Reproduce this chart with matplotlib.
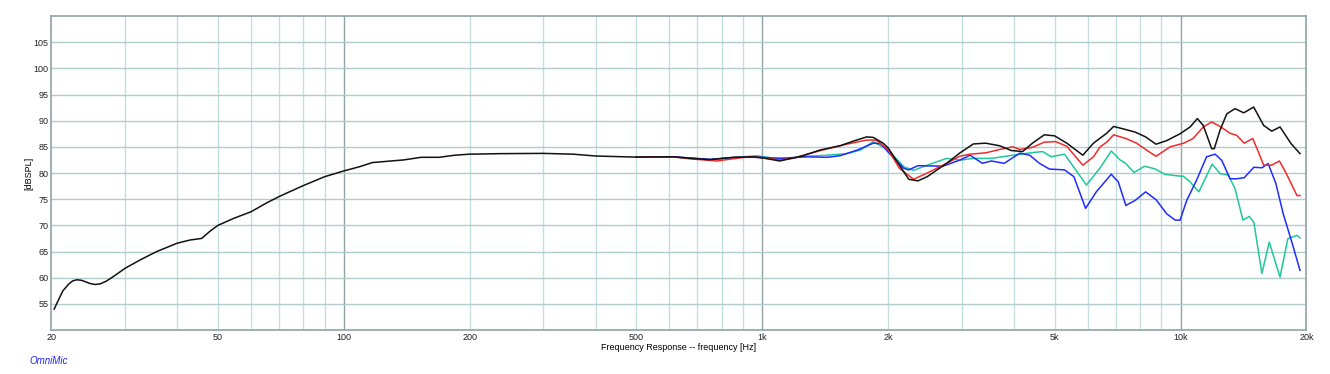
import numpy as np
import matplotlib
matplotlib.use("Agg")
import matplotlib.pyplot as plt

plt.rcParams['font.family'] = ['Liberation Sans', 'DejaVu Sans']

# ---- data (Hz, dBSPL) ----
black_f = [20.3, 20.8, 21.3, 22.0, 22.5, 23.0, 23.6, 24.7, 25.4, 26.1, 27.0, 28.1, 30, 32.6,
           35.7, 40, 42.9, 45.7, 47.9, 50, 54.4, 60, 65.4, 70, 80, 90, 100, 109, 117, 139,
           153, 169, 184, 200, 236, 300, 353, 400, 492, 612, 674, 750, 852, 953, 1000, 1102,
           1252, 1376, 1534, 1652, 1777, 1843, 1946, 2000, 2128, 2240, 2357, 2480, 2760,
           2965, 3196, 3420, 3698, 3940, 4193, 4426, 4724, 5000, 5348, 5840, 6192, 6660,
           6920, 7400, 7800, 8250, 8740, 9270, 9975, 10540, 10970, 11330, 11870, 12040,
           12430, 12900, 13500, 14160, 14960, 15800, 16520, 17290, 18380, 19305]
black_db = [54.0, 55.8, 57.5, 58.8, 59.4, 59.6, 59.5, 58.9, 58.7, 58.8, 59.3, 60.2, 61.8, 63.4,
            65.0, 66.6, 67.2, 67.5, 68.9, 70.0, 71.3, 72.6, 74.3, 75.5, 77.6, 79.3, 80.4, 81.2,
            82.0, 82.5, 83.0, 83.0, 83.4, 83.6, 83.7, 83.75, 83.6, 83.25, 83.05, 83.1, 82.8,
            82.55, 83.0, 83.1, 82.9, 82.3, 83.3, 84.4, 85.2, 86.1, 86.9, 86.8, 85.7, 84.8,
            81.5, 78.8, 78.5, 79.3, 81.85, 83.8, 85.55, 85.7, 85.2, 84.3, 84.1, 85.7, 87.3,
            87.1, 85.7, 83.4, 85.7, 87.6, 88.9, 88.3, 87.8, 86.9, 85.5, 86.2, 87.5, 88.8,
            90.4, 89.1, 84.65, 84.65, 88.2, 91.3, 92.3, 91.5, 92.6, 89.1, 88.0, 88.8, 85.6,
            83.7]

red_f = [500, 612, 674, 780, 866, 930, 1000, 1102, 1184, 1280, 1426, 1590, 1777, 1870, 2000,
         2128, 2300, 2480, 2760, 2965, 3140, 3420, 3698, 3973, 4130, 4426, 4724, 5030, 5348,
         5840, 6192, 6424, 6660, 6920, 7400, 7850, 8250, 8740, 9440, 10180, 10720, 11330,
         11870, 12430, 13134, 13620, 14200, 14880, 15300, 15800, 16520, 17230, 17900, 18980,
         19305]
red_db = [83.05, 83.1, 82.7, 82.3, 82.8, 83.1, 82.9, 82.5, 82.8, 83.6, 84.6, 85.5, 86.3, 86.3,
          84.5, 80.9, 78.8, 80.0, 81.85, 83.2, 83.6, 83.85, 84.5, 85.0, 84.5, 84.9, 85.9, 86.0,
          85.1, 81.5, 83.1, 85.0, 85.9, 87.3, 86.6, 85.7, 84.5, 83.2, 85.0, 85.7, 86.6, 88.8,
          89.75, 88.9, 87.6, 87.2, 85.7, 86.6, 84.3, 81.5, 81.5, 82.3, 79.9, 75.7, 75.7]

teal_f = [500, 612, 750, 870, 970, 1070, 1160, 1280, 1426, 1590, 1720, 1843, 2000, 2180, 2300,
          2480, 2760, 2965, 3196, 3530, 3973, 4426, 4680, 4910, 5280, 5960, 6424, 6830, 7170,
          7400, 7740, 8200, 8680, 9170, 9975, 10150, 10540, 11060, 11900, 12430, 13010, 13500,
          14100, 14600, 14970, 15650, 16300, 17290, 18050, 18980, 19305]
teal_db = [83.05, 83.1, 82.6, 83.0, 83.3, 82.8, 82.8, 83.2, 83.4, 83.7, 84.4, 86.0, 84.4, 81.2,
           80.5, 81.5, 82.8, 82.45, 82.8, 82.8, 83.4, 83.9, 84.1, 83.1, 83.6, 77.7, 81.0, 84.2,
           82.5, 81.8, 80.1, 81.3, 80.8, 79.75, 79.4, 79.4, 78.3, 76.4, 81.7, 79.9, 79.6, 77.0,
           71.0, 71.7, 70.6, 60.8, 66.8, 60.1, 67.45, 68.1, 67.6]

blue_f = [500, 612, 750, 870, 1000, 1102, 1280, 1426, 1534, 1690, 1843, 1920, 2000, 2180, 2240,
          2357, 2700, 2965, 3140, 3360, 3530, 3790, 4130, 4360, 4600, 4860, 5280, 5560, 5930,
          6290, 6830, 7100, 7400, 7800, 8250, 8740, 9270, 9710, 9975, 10350, 10920, 11540,
          12100, 12550, 13134, 13620, 14200, 14970, 15650, 16200, 16900, 17600, 18500, 19305]
blue_db = [83.05, 83.1, 82.6, 83.0, 83.0, 82.8, 83.1, 83.0, 83.3, 84.4, 85.7, 85.6, 84.0, 80.9,
           80.6, 81.4, 81.3, 82.45, 83.4, 81.85, 82.3, 81.85, 83.8, 83.4, 81.85, 80.75, 80.6,
           79.3, 73.25, 76.4, 79.75, 78.3, 73.8, 74.8, 76.4, 74.9, 72.2, 71.0, 71.0, 74.8,
           78.6, 83.1, 83.6, 82.4, 78.9, 78.9, 79.1, 81.1, 81.0, 81.8, 78.0, 72.2, 66.5, 61.4]

x_ticks = [20, 50, 100, 200, 500, 1000, 2000, 5000, 10000, 20000]
x_labels = ['20', '50', '100', '200', '500', '1k', '2k', '5k', '10k', '20k']
y_ticks = [55, 60, 65, 70, 75, 80, 85, 90, 95, 100, 105]

FRAME = '#8fa3a3'
MINOR = '#c2dede'
HGRID = '#b2cccc'

fig = plt.figure(figsize=(13.3, 3.74), dpi=100)
ax = fig.add_axes([0.0387, 0.1176, 0.9436, 0.8396])
ax.set_xscale('log')
ax.set_xlim(20, 20000)
ax.set_ylim(50, 110)

# grid: minor verticals, darker decade lines, horizontal every 5 dB
minor_x = [m * d for d in (10, 100, 1000, 10000) for m in range(2, 10) if 20 < m * d < 20000]
for xv in minor_x:
    ax.axvline(xv, color=MINOR, lw=1.0, zorder=0)
for xv in (100, 1000, 10000):
    ax.axvline(xv, color=FRAME, lw=1.0, zorder=0)
for yv in y_ticks:
    ax.axhline(yv, color=HGRID, lw=1.0, zorder=0)

ax.plot(teal_f, teal_db, color='#1fc79a', lw=1.1, zorder=2)
ax.plot(blue_f, blue_db, color='#1f2cff', lw=1.1, zorder=3)
ax.plot(red_f, red_db, color='#f42a2a', lw=1.1, zorder=4)
ax.plot(black_f, black_db, color='#111111', lw=1.1, zorder=5)

ax.set_xticks(x_ticks)
ax.set_xticklabels(x_labels)
ax.xaxis.set_minor_locator(matplotlib.ticker.NullLocator())
ax.set_yticks(y_ticks)
ax.tick_params(length=0, labelsize=6.5, colors='#222222', pad=2)

for sp in ax.spines.values():
    sp.set_color(FRAME)
    sp.set_linewidth(1.2)

ax.set_xlabel('Frequency Response -- frequency [Hz]', fontsize=6.5, labelpad=1)
ax.set_ylabel('[dBSPL]', fontsize=6.5, labelpad=0)
fig.text(0.022, 0.028, 'OmniMic', color='#2222ee', fontsize=7, style='italic')

fig.savefig('out.png', dpi=100)
